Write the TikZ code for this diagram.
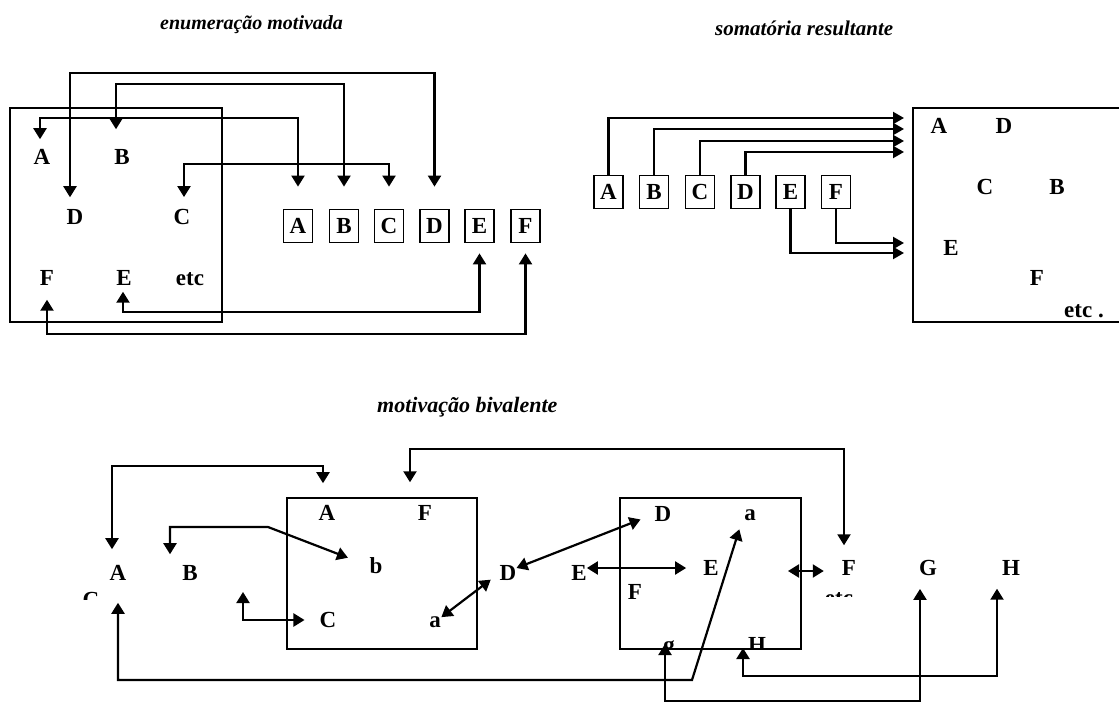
\documentclass[tikz,border=0pt]{standalone}
\usepackage{fontspec}
\setmainfont{Liberation Serif}
\usetikzlibrary{arrows.meta,calc}
\begin{document}
\begin{tikzpicture}[x=1pt,y=-1pt,
  lt/.style={font=\bfseries\fontsize{23}{27}\selectfont, inner sep=0pt},
  ttl/.style={font=\bfseries\itshape\fontsize{20}{24}\selectfont, inner sep=0pt, anchor=base west},
  sbox/.style={draw, line width=1.8pt, minimum width=29pt, minimum height=33pt, inner sep=0pt, font=\bfseries\fontsize{23}{27}\selectfont},
  bigbox/.style={draw, line width=2pt, inner sep=0pt},
  dbl/.style={line width=2.2pt, {Triangle[width=13pt,length=11pt]}-{Triangle[width=13pt,length=11pt]}},
  ar/.style={line width=2.2pt, -{Triangle[width=12pt,length=11pt]}},
]
\clip (0,0) rectangle (1119,703);
\fill[white] (0,0) rectangle (1119,703);

% ---------- top left: enumeracao motivada ----------
\node[ttl] (t1) at (160,30) {enumeração motivada};
\node[bigbox, minimum width=212pt, minimum height=214pt] (lbox) at (116,215) {};
\node[lt] (la) at (42,157) {A};
\node[lt] (lb) at (122,157) {B};
\node[lt] (ld) at (75,217) {D};
\node[lt] (lc) at (182,217) {C};
\node[lt] (lf) at (47,278) {F};
\node[lt] (le) at (124,278) {E};
\node[lt, anchor=base] (letc) at (190,286) {etc};

\node[sbox] (sa) at (298,226) {A};
\node[sbox] (sb) at (344,226) {B};
\node[sbox] (sc) at (389,226) {C};
\node[sbox] (sd) at (434.5,226) {D};
\node[sbox] (se) at (479.5,226) {E};
\node[sbox] (sf) at (525.5,226) {F};

\draw[dbl, shorten <=10pt, shorten >=22pt] ([xshift=-2pt]la.north) |- (sa.north |- 0,118) -- (sa.north);
\draw[dbl, shorten <=20pt, shorten >=22pt] ([xshift=-6pt]lb.north) |- (sb.north |- 0,84) -- (sb.north);
\draw[dbl, shorten <=12pt, shorten >=22pt] ([xshift=-5pt]ld.north) |- (sd.north |- 0,73) -- (sd.north);
\draw[dbl, shorten <=12pt, shorten >=22pt] ([xshift=2pt]lc.north) |- (sc.north |- 0,164) -- (sc.north);
\draw[dbl, shorten <=6pt, shorten >=10pt] ([xshift=-1pt]le.south) |- (se.south |- 0,312) -- (se.south);
\draw[dbl, shorten <=14pt, shorten >=10pt] (lf.south) |- (sf.south |- 0,334) -- (sf.south);

% ---------- top right: somatoria resultante ----------
\node[ttl, font=\bfseries\itshape\fontsize{21}{25}\selectfont] (t2) at (715,36) {somatória resultante};
\node[sbox] (ra) at (608.5,192) {A};
\node[sbox] (rb) at (654,192) {B};
\node[sbox] (rc) at (700,192) {C};
\node[sbox] (rd) at (745.5,192) {D};
\node[sbox] (re) at (790.5,192) {E};
\node[sbox] (rf) at (836,192) {F};
\node[bigbox, minimum width=212pt, minimum height=214pt] (rbox) at (1019,215) {};
\node[lt] (qa1) at (939,126) {A};
\node[lt] (qd1) at (1004,126) {D};
\node[lt] (qc1) at (985,187) {C};
\node[lt] (qb1) at (1057,187) {B};
\node[lt] (qe1) at (951,248) {E};
\node[lt] (qf1) at (1037,278) {F};
\node[lt, anchor=base] (qetc) at (1084,318) {etc .};

\draw[ar, shorten >=8pt] (ra.north) |- (rbox.west |- 0,118);
\draw[ar, shorten >=8pt] (rb.north) |- (rbox.west |- 0,129);
\draw[ar, shorten >=8pt] (rc.north) |- (rbox.west |- 0,141);
\draw[ar, shorten >=8pt] (rd.north) |- (rbox.west |- 0,152);
\draw[ar, shorten >=8pt] (re.south) |- (rbox.west |- 0,253);
\draw[ar, shorten >=8pt] (rf.south) |- (rbox.west |- 0,243);

% ---------- bottom: motivacao bivalente ----------
\node[ttl, font=\bfseries\itshape\fontsize{22}{26}\selectfont] (t3) at (377,412) {motivação bivalente};
\node[bigbox, line width=1.8pt, minimum width=190pt, minimum height=151pt] (box1) at (382,573.5) {};
\node[bigbox, line width=1.8pt, minimum width=181pt, minimum height=151pt] (box2) at (710.5,573.5) {};

\node[lt] (bA) at (118,573) {A};
\node[lt] (bB) at (190,573) {B};
\begin{scope}
  \clip (70,585) rectangle (112,599);
  \node[lt] (bC) at (91,600) {C};
\end{scope}

\node[lt] (pA) at (327,513) {A};
\node[lt] (pF) at (425,513) {F};
\node[lt] (pb) at (376,566) {b};
\node[lt] (pC) at (328,620) {C};
\node[lt] (pa) at (435,622) {a};

\node[lt] (mD) at (508,573) {D};
\node[lt] (mE) at (579,573) {E};

\node[lt] (qD) at (663,514) {D};
\node[lt] (qa) at (750,515) {a};
\node[lt] (qE) at (711,568) {E};
\node[lt] (qF) at (635,592) {F};
\begin{scope}
  \clip (640,630) rectangle (790,648);
  \node[lt, anchor=base] (qg) at (669,652) {g};
  \node[lt, anchor=base] (qH) at (757,652) {H};
\end{scope}

\node[lt] (oF) at (849,568) {F};
\node[lt] (oG) at (928,568) {G};
\node[lt] (oH) at (1011,568) {H};
\begin{scope}
  \clip (815,588) rectangle (865,596);
  \node[lt, anchor=base] (oetc) at (839,605) {etc};
\end{scope}

\coordinate (c3) at (243,592);
\coordinate (c8) at (788,571);
\coordinate (c10) at (665,644);
\coordinate (c11) at (743,648);

\draw[dbl, shorten <=16pt, shorten >=22pt] ([xshift=-6pt]bA.north) |- ([xshift=-4pt]pA.north |- 0,466) -- ([xshift=-4pt]pA.north);
\draw[dbl, shorten <=11pt, shorten >=23pt] ([xshift=-20pt]bB.north) |- (268,527) -- (pb.west);
\draw[dbl, shorten >=15pt] (c3) -- (243,620) -- (pC.west);
\draw[dbl, shorten <=22pt, shorten >=9pt] (bA.south) |- (692,680) -- ([xshift=-8pt]qa.south);
\draw[dbl, shorten >=15pt] ([yshift=5pt]mD.east) -- (qD.west);
\draw[dbl, shorten >=17pt] ([yshift=5pt]mE.east) -- (qE.west);
\draw[dbl, shorten <=8pt, shorten >=11pt] (pa.center) -- (mD.west);
\draw[dbl, shorten >=18pt] (c8) -- (oF.west |- 0,571);
\draw[dbl, shorten <=23pt, shorten >=15pt] ([xshift=-15pt]pF.north) |- ([xshift=-5pt]oF.north |- 0,449) -- ([xshift=-5pt]oF.north);
\draw[dbl, shorten >=13pt] (c10) |- ([xshift=-8pt]oG.south |- 0,701) -- ([xshift=-8pt]oG.south);
\draw[dbl, shorten >=13pt] (c11) |- ([xshift=-14pt]oH.south |- 0,676) -- ([xshift=-14pt]oH.south);
\end{tikzpicture}
\end{document}
